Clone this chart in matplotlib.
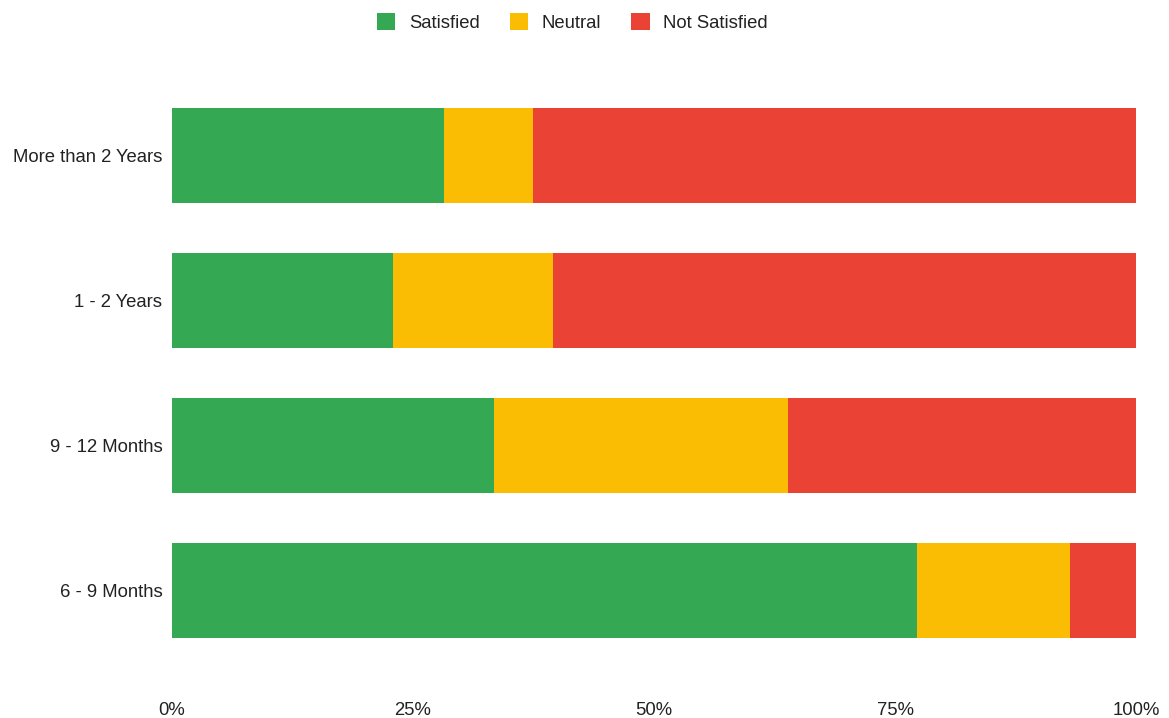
import matplotlib.pyplot as plt
from matplotlib.patches import Patch
from matplotlib.ticker import FuncFormatter

plt.rcParams['font.family'] = ['Liberation Sans', 'DejaVu Sans']

categories = ['6 - 9 Months', '9 - 12 Months', '1 - 2 Years', 'More than 2 Years']
satisfied = [77.3, 33.4, 22.9, 28.2]
neutral = [15.9, 30.5, 16.6, 9.2]
not_satisfied = [6.8, 36.1, 60.5, 62.6]
series_names = ['Satisfied', 'Neutral', 'Not Satisfied']
colors = ['#34A853', '#FBBC04', '#EA4335']

fig = plt.figure(figsize=(11.69, 7.18), dpi=100)
W, H = 1169, 718
ax = fig.add_axes([172 / W, 1 - 663 / H, (1136 - 172) / W, (663 - 83) / H])

y = range(len(categories))
left = [0] * len(categories)
for vals, c in zip([satisfied, neutral, not_satisfied], colors):
    ax.barh(y, vals, left=left, height=0.655, color=c, linewidth=0)
    left = [a + b for a, b in zip(left, vals)]

ax.set_xlim(0, 100)
ax.set_ylim(-0.5, len(categories) - 0.5)
ax.set_yticks(list(y))
ax.set_yticklabels(categories, fontsize=13.3, color='#222222')
ax.set_xticks([0, 25, 50, 75, 100])
ax.xaxis.set_major_formatter(FuncFormatter(lambda v, p: f'{int(v)}%'))
ax.tick_params(axis='x', length=0, pad=28, labelsize=13.3, labelcolor='#222222')
ax.tick_params(axis='y', length=0, pad=7)
for s in ax.spines.values():
    s.set_visible(False)

handles = [Patch(facecolor=c, edgecolor='none') for c in colors]
fig.legend(handles, series_names, loc='upper center', bbox_to_anchor=(572.5 / W, 1.005),
           ncol=3, frameon=False, fontsize=13.3, handlelength=1.0, handleheight=1.0,
           handletextpad=0.75, columnspacing=1.6, labelcolor='#222222')

fig.savefig('out.png', dpi=100)
